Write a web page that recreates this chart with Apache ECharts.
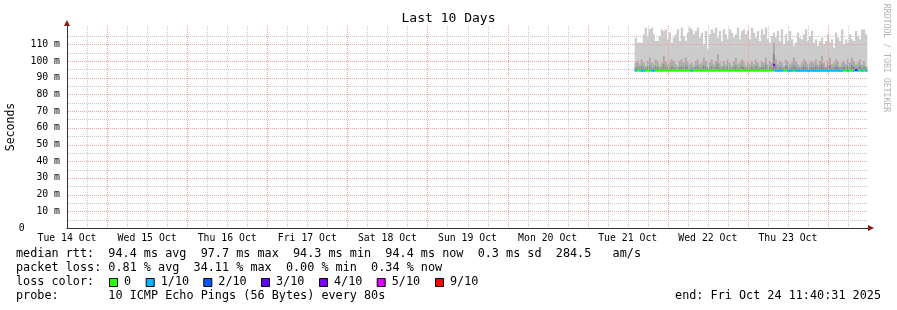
<!DOCTYPE html>
<html><head><meta charset="utf-8">
<script src="https://cdn.jsdelivr.net/npm/echarts@6/dist/echarts.min.js"></script>
<style>html,body{margin:0;padding:0;background:#fff}#c{width:897px;height:310px}</style>
</head><body><div id="c"></div>
<script>
// ---- data ----
const dayLabels = ['Tue 14 Oct','Wed 15 Oct','Thu 16 Oct','Fri 17 Oct','Sat 18 Oct','Sun 19 Oct','Mon 20 Oct','Tue 21 Oct','Wed 22 Oct','Thu 23 Oct'];
// hours since Tue 14 Oct 12:00
const dataStartHour = 170.1;
const stepHours = 0.6;
const smokeFloor = 93.9;
const smokeMax = [
 114,111,111,111,116,120,115,119,120,116, 112,112,115,119,118,119,113,117,111,114, 116,119,112,120,115,112,117,120,
 119,116,118,120,114,117,110,118,107,116, 119,117,120,114,118,112,119,116,113,119, 117,114,116,120,113,118,119,116,118,113,
 120,117,114,118,112,119,116,120,113,111, 115,117,114,118,112,119,110,116,112,118, 113,109,111,117,114,113,116,119,112,115, 118,
 111,113,109,112,114,110,112,116,111,113, 108,117,114,112,119,110,113,111,116,113, 112,118,115,113,119,119,116
];
const smokeMid = [
 99,100,98,101,99,97,100,102,99,98, 101,100,97,99,103,100,98,99,101,100, 98,97,100,101,99,102,100,98,
 99,97,100,101,98,99,102,100,97,99, 101,98,100,104,99,97,100,98,101,99, 97,100,102,98,99,101,100,97,99,98,
 100,98,101,99,97,100,99,102,98,100, 99,111,101,98,100,99,97,101,100,98, 99,102,100,98,97,99,101,100,98,99, 100,
 99,101,98,100,103,99,97,100,102,98, 99,101,100,97,99,100,98,101,99,102, 100,98,99,101,98,100,97
];
const smokeDark = [
 96,96.5,95.5,97,96,95.5,96.5,97.5,96,95.5, 97,96.5,95.5,96,98,96.5,95.5,96,97,96.5, 95.5,95.5,96.5,97,96,97.5,96.5,95.5,
 96,95.5,96.5,97,95.5,96,97.5,96.5,95.5,96, 97,95.5,96.5,98.5,96,95.5,96.5,95.5,97,96, 95.5,96.5,97.5,95.5,96,97,96.5,95.5,96,95.5,
 96.5,95.5,97,96,95.5,96.5,96,97.5,95.5,96.5, 96,105,97,95.5,96.5,96,95.5,97,96.5,95.5, 96,97.5,96.5,95.5,95.5,96,97,96.5,95.5,96, 96.5,
 96,97,95.5,96.5,98,96,95.5,96.5,97.5,95.5, 96,97,96.5,95.5,96,96.5,95.5,97,96,97.5, 96.5,95.5,96,97,95.5,96.5,95.5
];
const medianRtt = [
 94.4,94.5,94.4,94.3,94.3,94.4,94.5,94.4,94.3,94.3,
 94.4,94.4,94.5,94.4,94.4,94.5,94.4,94.4,94.4,94.5,
 94.4,94.4,94.5,94.4,94.4,94.4,94.5,94.4,94.3,94.4,
 94.4,94.5,94.4,94.4,94.4,94.5,94.4,94.4,94.4,94.4,
 94.5,94.4,94.4,94.4,94.5,94.4,94.4,94.4,94.4,94.5,
 94.4,94.4,94.4,94.5,94.4,94.4,94.4,94.4,94.5,94.4,
 94.4,94.4,94.5,94.4,94.4,94.4,94.4,94.5,94.4,97.7,
 94.3,94.3,94.3,94.3,94.4,94.4,94.3,94.2,94.3,94.4,
 94.3,94.3,94.2,94.3,94.3,94.3,94.2,94.3,94.3,94.3,
 94.3,94.2,94.3,94.3,94.3,94.3,94.2,94.3,94.3,94.3,
 94.3,94.3,94.2,94.3,94.4,94.4,94.3,94.4,94.4,94.3,
 94.6,94.3,94.4,94.3,94.4,94.3
];
const lossTenths = [
 1,0,0,1,1,0,0,0,1,1, 0,0,0,0,0,0,0,0,0,0, 0,0,0,0,0,0,0,0,1,0,
 0,0,0,0,0,0,0,0,0,0, 0,0,0,0,0,0,0,0,0,0, 0,0,0,0,0,0,0,0,0,0,
 0,0,0,0,0,0,0,0,0,4, 1,1,1,1,0,0,1,1,1,0, 1,1,1,1,1,1,1,1,1,1,
 1,1,1,1,1,1,1,1,1,1, 1,1,1,1,0,0,1,0,0,1, 3,1,0,1,0,1
];
const lossLabels = ['0','1/10','2/10','3/10','4/10','5/10','9/10'];
const lossKeys = [0,1,2,3,4,5,9];
const lossColors = {0:'#26ff00',1:'#00b8ff',2:'#0059ff',3:'#5e00ff',4:'#7e00ff',5:'#dd00ff',9:'#ff0000'};
const statLines = [
 'median rtt:  94.4 ms avg  97.7 ms max  94.3 ms min  94.4 ms now  0.3 ms sd  284.5   am/s',
 'packet loss: 0.81 % avg  34.11 % max  0.00 % min  0.34 % now',
 'loss color:',
 'probe:       10 ICMP Echo Pings (56 Bytes) every 80s'
];
const endText = 'end: Fri Oct 24 11:40:31 2025';

// ---- build ----
const mono = 'DejaVu Sans Mono';
const X_MAX = 240, X_STEP = 6, Y_MAX = 121, Y_STEP = 5;
const RED = '#f0a0a0', GRAY = '#c8c8c8';
const rows = smokeMax.map((mx, i) => [dataStartHour + i * stepHours, smokeFloor, smokeDark[i], smokeMid[i], mx, medianRtt[i], lossTenths[i]]);

// grid lines: [direction(0 = vertical, 1 = horizontal), value, major]
const gridRows = [];
for (let h = X_STEP; h < X_MAX; h += X_STEP) gridRows.push([0, h, (h % 24 === 12) ? 1 : 0]);
for (let v = Y_STEP; v < 120; v += Y_STEP) gridRows.push([1, v, (v % 10 === 0) ? 1 : 0]);

const chart = echarts.init(document.getElementById('c'), null, {renderer: 'canvas'});
const legendBoxX = [109, 145.7, 203.3, 261, 319, 376.7, 435];
const legendTextX = [124, 160.7, 218.3, 276, 334, 391.7, 450];
const graphics = [
  {type:'text', x:11, y:127, rotation:Math.PI/2, style:{text:'Seconds', font:'11.5px ' + mono, fill:'#000', align:'center', verticalAlign:'middle'}},
  {type:'text', x:886, y:58, rotation:-Math.PI/2, style:{text:'RRDTOOL / TOBI OETIKER', font:'8.2px ' + mono, fill:'#b4b4b4', align:'center', verticalAlign:'middle'}},
  {type:'polygon', z:10, shape:{points:[[67,20],[64,26],[70,26]]}, style:{fill:'#8a1c1c'}},
  {type:'polygon', z:10, shape:{points:[[874,228],[868,225],[868,231]]}, style:{fill:'#8a1c1c'}},
  {type:'text', x:881, y:296, style:{text:endText, font:'11.8px ' + mono, fill:'#000', align:'right', verticalAlign:'middle'}}
];
const lineY = [254, 268, 282, 296];
statLines.forEach((t, i) => graphics.push({type:'text', x:16, y:lineY[i], style:{text:t, font:'11.8px ' + mono, fill:'#000', align:'left', verticalAlign:'middle'}}));
lossKeys.forEach((k, i) => {
  graphics.push({type:'rect', shape:{x:legendBoxX[i]+0.5, y:278.5, width:8, height:8}, style:{fill:lossColors[k], stroke:'#000', lineWidth:1}});
  graphics.push({type:'text', x:legendTextX[i], y:282, style:{text:lossLabels[i], font:'11.8px ' + mono, fill:'#000', align:'left', verticalAlign:'middle'}});
});
graphics.push({type:'text', x:448.5, y:19, style:{text:'Last 10 Days', font:'13px ' + mono, fill:'#000', align:'center', verticalAlign:'middle'}});

chart.setOption({
  animation: false,
  backgroundColor: '#fff',
  grid: {left:67, right:29, top:26, bottom:82, containLabel:false, outerBoundsMode:'none'},
  xAxis: {
    type:'value', min:0, max:X_MAX, interval:X_STEP,
    axisLine:{show:true, onZero:false, lineStyle:{color:'#333', width:1}},
    axisTick:{show:false},
    axisLabel:{margin:5, fontFamily:mono, fontSize:9.8, color:'#000', showMaxLabel:false,
      formatter:v => (v % 24 === 0 && v / 24 < dayLabels.length) ? dayLabels[v/24] : ''},
    splitLine:{show:false}
  },
  yAxis: {
    type:'value', min:0, max:Y_MAX, interval:Y_STEP,
    axisLine:{show:true, lineStyle:{color:'#333', width:1}},
    axisTick:{show:false},
    axisLabel:{margin:7, fontFamily:mono, fontSize:9.8, color:'#000', showMaxLabel:false,
      formatter:v => (v % 10 === 0 && v <= 110) ? (v === 0 ? '0      ' : v + ' m') : ''},
    splitLine:{show:false}
  },
  series: [
    {
      type:'custom', data:rows, clip:false, z:1, silent:true,
      encode:{x:0, y:[1,4]},
      renderItem:(params, api) => {
        const t = api.value(0);
        const w = api.size([stepHours, 0])[0];
        const x0 = api.coord([t, 0])[0];
        const yB = api.coord([t, api.value(1)])[1];
        const yD = api.coord([t, api.value(2)])[1];
        const yM = api.coord([t, api.value(3)])[1];
        const yX = api.coord([t, api.value(4)])[1];
        return {type:'group', children:[
          {type:'rect', shape:{x:x0, y:yX, width:w + 0.3, height:yB-yX}, style:{fill:'#cccccc'}},
          {type:'rect', shape:{x:x0, y:yM, width:w + 0.3, height:yB-yM}, style:{fill:'#aaaaaa'}},
          {type:'rect', shape:{x:x0, y:yD, width:w + 0.3, height:yB-yD}, style:{fill:'#8c8c8c'}}
        ]};
      }
    },
    {
      type:'custom', data:gridRows, clip:false, z:3, silent:true,
      encode:{x:1},
      renderItem:(params, api) => {
        const dir = api.value(0), v = api.value(1), major = api.value(2);
        const cs = params.coordSys;
        const style = {stroke: major ? RED : GRAY, lineWidth:1, lineDash:[1,1], fill:null};
        if (dir === 0) {
          const x = Math.round(api.coord([v, 0])[0]) + 0.5;
          return {type:'line', shape:{x1:x, y1:cs.y, x2:x, y2:cs.y + cs.height}, style};
        }
        const y = Math.round(api.coord([0, v])[1]) + 0.5;
        return {type:'line', shape:{x1:cs.x + 1, y1:y, x2:cs.x + cs.width, y2:y}, style};
      }
    },
    {
      type:'custom', data:rows, clip:false, z:5, silent:true,
      encode:{x:0, y:5},
      renderItem:(params, api) => {
        const t = api.value(0);
        const w = api.size([stepHours, 0])[0];
        const p = api.coord([t, api.value(5)]);
        return {type:'rect', shape:{x:p[0], y:p[1]-1, width:w + 0.3, height:2}, style:{fill:lossColors[api.value(6)]}};
      }
    }
  ],
  graphic: graphics
});
</script></body></html>
